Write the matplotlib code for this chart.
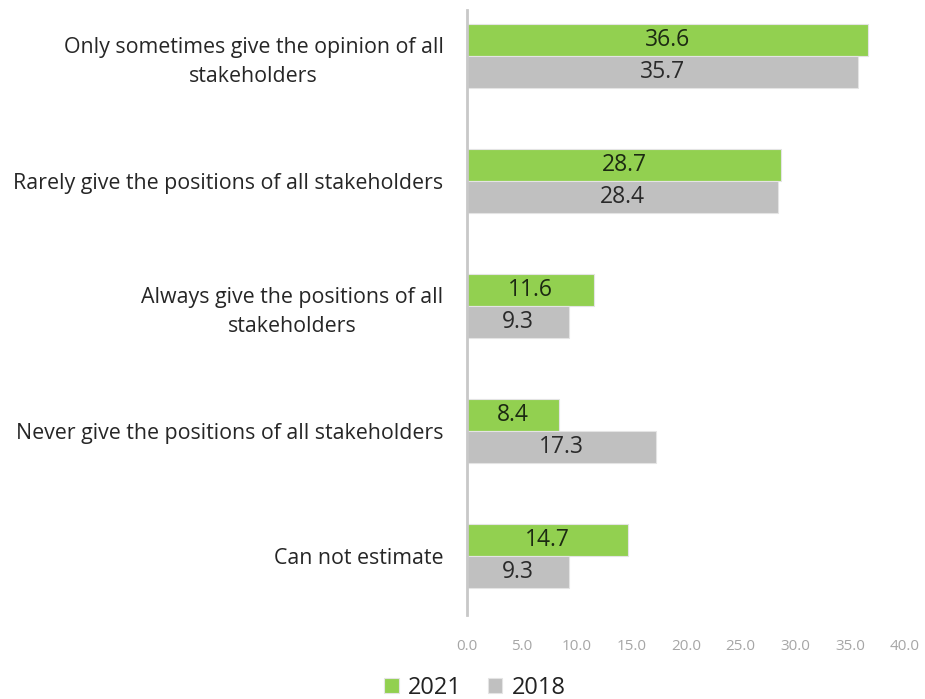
import matplotlib.pyplot as plt
import numpy as np

categories = [
    "Only sometimes give the opinion of all\nstakeholders",
    "Rarely give the positions of all stakeholders",
    "Always give the positions of all\nstakeholders",
    "Never give the positions of all stakeholders",
    "Can not estimate",
]
values_2021 = [36.6, 28.7, 11.6, 8.4, 14.7]
values_2018 = [35.7, 28.4, 9.3, 17.3, 9.3]
series_labels = ["2021", "2018"]
xticks = [0, 5, 10, 15, 20, 25, 30, 35, 40]

plt.rcParams['font.family'] = ['Open Sans', 'DejaVu Sans']

fig = plt.figure(figsize=(9.25, 6.99), dpi=100)
W, H = 925, 699
left, right, top, bottom = 467, 905, 10, 615
ax = fig.add_axes([left / W, 1 - bottom / H, (right - left) / W, (bottom - top) / H])

y = np.arange(len(categories))
h = 0.256
green = "#92d050"
grey = "#c0c0c0"

b1 = ax.barh(y - h / 2, values_2021, height=h, color=green, edgecolor="#e4e4e4",
             linewidth=0.8, label=series_labels[0])
b2 = ax.barh(y + h / 2, values_2018, height=h, color=grey, edgecolor="#e4e4e4",
             linewidth=0.8, label=series_labels[1])

for bars, vals, col in ((b1, values_2021, "#1c2a12"), (b2, values_2018, "#2a2a2a")):
    for rect, v in zip(bars, vals):
        ax.text(rect.get_x() + rect.get_width() / 2, rect.get_y() + rect.get_height() / 2,
                f"{v:.1f}", ha="center", va="center", fontsize=16.5, color=col)

ax.set_xlim(0, 40)
ax.set_ylim(4.472, -0.368)
ax.set_xticks(xticks)
ax.set_xticklabels([f"{t:.1f}" for t in xticks], color="#a6a6a6", fontsize=11)
ax.tick_params(axis="x", length=0, pad=17.5)
ax.set_yticks(y)
ax.set_yticklabels(categories, fontsize=15.4, color="#262626", ha="right",
                   multialignment="center", linespacing=1.45)
ax.tick_params(axis="y", length=0, pad=17)

for s in ("top", "right", "bottom"):
    ax.spines[s].set_visible(False)
ax.spines["left"].set_color("#c8c8c8")
ax.spines["left"].set_linewidth(2)

leg = fig.legend(handles=[b1, b2], labels=series_labels, loc="center",
                 bbox_to_anchor=(475 / W, 1 - 688 / H), ncol=2, frameon=False,
                 fontsize=17, handlelength=0.6, handleheight=0.6,
                 handletextpad=0.4, columnspacing=1.1)
for t in leg.get_texts():
    t.set_color("#222222")

fig.savefig("out.png", dpi=100)
